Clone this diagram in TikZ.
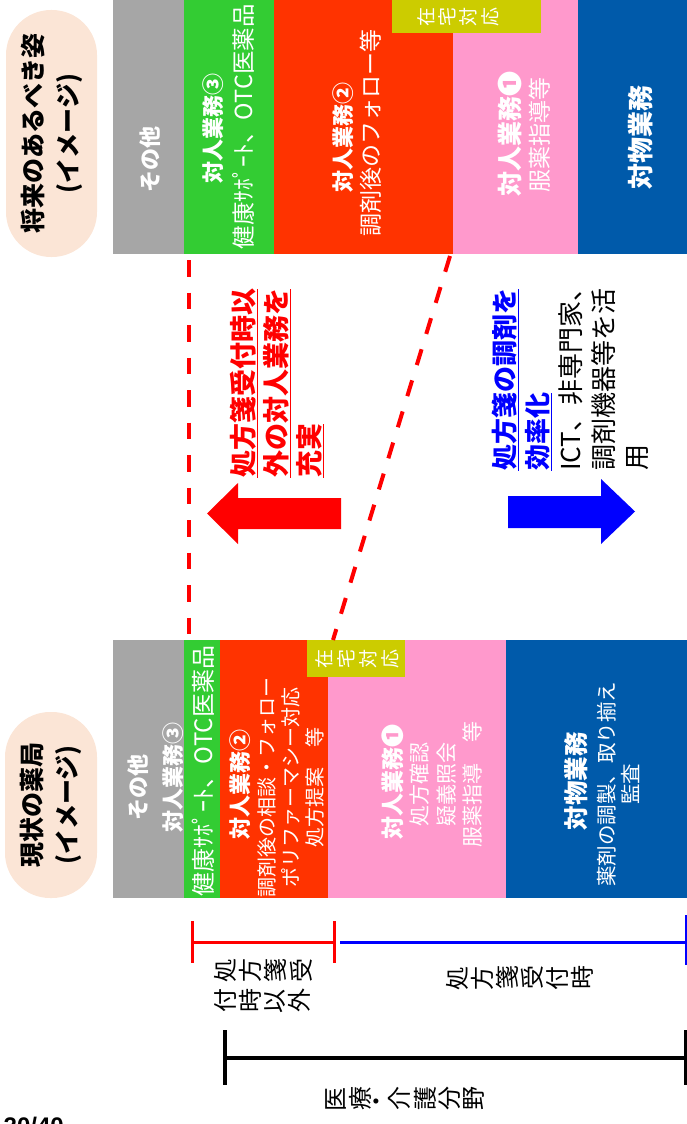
\documentclass[tikz,border=0pt]{standalone}
\usepackage{fontspec}
\setmainfont{Noto Sans CJK JP}
\newfontfamily\pgfont{Liberation Sans}
\usepackage{graphicx}

\definecolor{cgray}{HTML}{A6A6A6}
\definecolor{cgreen}{HTML}{33CC33}
\definecolor{cred}{HTML}{FF3300}
\definecolor{cyel}{HTML}{CCCC00}
\definecolor{cpink}{HTML}{FF99CC}
\definecolor{cblue}{HTML}{005AAA}
\definecolor{cpill}{HTML}{FBE5D6}
\definecolor{tred}{HTML}{FF0000}
\definecolor{tblue}{HTML}{0000FF}

\makeatletter
\newcommand\tate[2]{\@tfor\tg@c:=#2\do{\rotatebox[origin=c]{90}{\tg@c}\hspace{#1}}\unskip}
\makeatother
\newsavebox\ulbox
\newcommand\ulx[1]{\sbox\ulbox{#1}\rlap{\rule[-4.5pt]{\wd\ulbox}{1.3pt}}\usebox\ulbox}
\newcommand\fs[2]{\fontsize{#1}{#2}\selectfont}

\begin{document}
\begin{tikzpicture}[x=1pt,y=-1pt,
  bar/.style={inner sep=0pt, outer sep=0pt, anchor=north west, draw=none},
  pill/.style={fill=cpill, draw=none, rounded corners=45pt, inner sep=0pt},
  rt/.style={rotate=90, inner sep=0pt, align=center, text=white},
  pilltext/.style={rotate=90, inner sep=0pt, align=center, text=black, font=\bfseries\fs{25}{35}},
  dashline/.style={draw=tred, line width=4pt, dash pattern=on 16.5pt off 16pt},
  tg/.style={inner sep=0pt, align=left},
]
\useasboundingbox (0,0) rectangle (687,1124);

% ---------- future (top) ----------
\node[pill, minimum width=91pt, minimum height=247pt] (fpill) at (51.5,133.5) {};
\node[pilltext] (fpillt) at (fpill) {将来のあるべき姿\\(イメージ)};

\node[bar, fill=cgray,  minimum width=71pt,  minimum height=254pt] (fgray)  at (113,0) {};
\node[bar, fill=cgreen, minimum width=90pt,  minimum height=254pt] (fgreen) at (184,0) {};
\node[bar, fill=cred,   minimum width=179pt, minimum height=254pt] (fred)   at (274,0) {};
\node[bar, fill=cpink,  minimum width=125pt, minimum height=254pt] (fpink)  at (453,0) {};
\node[bar, fill=cblue,  minimum width=109pt, minimum height=254pt] (fblue)  at (578,0) {};
\node[bar, fill=cyel,   minimum width=149pt, minimum height=33pt]  (fyel)   at (392,0) {};

\node[rt, font=\bfseries\fs{22}{26}] (fgrayt) at (150,159) {その他};
\node[rt, font=\bfseries\fs{22}{26}] (fgreent) at (213,128) {対人業務③};
\node[rt, font=\fs{23.5}{28}] (fgreenb) at (243,127) {健康ｻﾎﾟｰﾄ、OTC医薬品};
\node[rt, font=\bfseries\fs{22}{26}] (fredt) at (343,137) {対人業務②};
\node[rt, font=\fs{23}{28}] (fredb) at (371,133) {調剤後のフォロー等};
\node[tg, text=white, font=\fs{19}{23}] (fyelt) at (458,17) {\tate{4pt}{在宅対応}};
\node[rt, font=\bfseries\fs{25}{30}] (fpinkt) at (510,134) {対人業務❶};
\node[rt, font=\fs{23}{28}] (fpinkb) at (540,135) {服薬指導等};
\node[rt, font=\bfseries\fs{26}{30}] (fbluet) at (641,137) {対物業務};

% ---------- current (bottom) ----------
\node[pill, minimum width=92pt, minimum height=186pt] (cpillr) at (51,805) {};
\node[pilltext] (cpillt) at (cpillr) {現状の薬局\\(イメージ)};

\node[bar, fill=cgray,  minimum width=71pt,  minimum height=258pt] (cgrayb)  at (113,640) {};
\node[bar, fill=cgreen, minimum width=36pt,  minimum height=258pt] (cgreenb) at (184,640) {};
\node[bar, fill=cred,   minimum width=108pt, minimum height=258pt] (credb)   at (220,640) {};
\node[bar, fill=cpink,  minimum width=178pt, minimum height=258pt] (cpinkb)  at (328,640) {};
\node[bar, fill=cblue,  minimum width=181pt, minimum height=258pt] (cblueb)  at (506,640) {};
\node[bar, fill=cyel,   minimum width=98pt,  minimum height=37pt]  (cyelb)   at (307,640) {};

\node[rt, font=\bfseries\fs{22}{26}] (cgrayt) at (138,787) {その他};
\node[rt, font=\bfseries\fs{22}{26}] (cgrayt2) at (173,777) {対人業務③};
\node[rt, font=\fs{24}{28}] (cgreent) at (203,771) {健康ｻﾎﾟｰﾄ、OTC医薬品};
\node[rt, font=\bfseries\fs{22}{26}] (credt) at (240,784) {対人業務②};
\node[rt, font=\fs{20}{24}] (credtx) at (291,787) {調剤後の相談・フォロー\\ポリファーマシー対応\\処方提案　等};
\node[tg, text=white, font=\fs{19}{23}] (cyelt) at (357,659) {\tate{4.5pt}{在宅対応}};
\node[rt, font=\bfseries\fs{23}{28}] (cpinkt) at (393,782) {対人業務❶};
\node[rt, font=\fs{21}{26.5}] (cpinktx) at (446,784) {処方確認\\疑義照会\\服薬指導　等};
\node[rt, font=\bfseries\fs{24.5}{28}] (cbluet) at (576,781) {対物業務};
\node[rt, font=\fs{20.5}{24}] (cbluetx) at (618,784) {薬剤の調製、取り揃え\\監査};

% ---------- dashed guide lines ----------
\coordinate (v1) at (189,260);
\coordinate (v2) at (189,640);
\coordinate (d1) at (450,256);
\coordinate (d2) at (333,640);
\draw[dashline] (v1) -- (v2);
\draw[dashline] (d1) -- (d2);

% ---------- arrows and their texts ----------
\fill[tred] (341,498) -- (238,498) -- (238,483) -- (207,513.5) -- (238,544) -- (238,529) -- (341,529) -- cycle;
\coordinate (redtip) at (207,513.5);
\fill[tblue] (508,496) -- (601,496) -- (601,479) -- (635,511.5) -- (601,544) -- (601,528) -- (508,528) -- cycle;
\coordinate (bluetip) at (635,511.5);

\node[rotate=90, anchor=north west, align=left, inner sep=0pt, text=tred, font=\bfseries\fs{27}{33}] (rtext) at (230,478)
  {\ulx{処方箋受付時以}\\\ulx{外の対人業務を}\\\ulx{充実}};
\node[rotate=90, anchor=north west, align=left, inner sep=0pt, text=black, font=\fs{26}{33}] (btext) at (492,471)
  {{\bfseries\color{tblue}\ulx{処方箋の調剤を}}\\{\bfseries\color{tblue}\ulx{効率化}}\\ICT、非専門家、\\調剤機器等を活\\用};

% ---------- brackets ----------
\coordinate (ra) at (192,942); \coordinate (rb) at (334,942);
\draw[tred, line width=3pt] (ra) -- (rb);
\draw[tred, line width=3pt] (192,921) -- (192,963);
\draw[tred, line width=3pt] (334,921) -- (334,963);
\coordinate (ba) at (340,942); \coordinate (bb) at (686,942);
\draw[tblue, line width=3pt] (ba) -- (bb);
\draw[tblue, line width=3pt] (686,915) -- (686,965);
\coordinate (ka) at (225,1058); \coordinate (kb) at (686,1058);
\draw[black, line width=3.5pt] (ka) -- (kb);
\draw[black, line width=3.5pt] (225,1030) -- (225,1085);
\draw[black, line width=3.5pt] (686,1030) -- (686,1085);

\node[tg, font=\fs{24}{30}] (lb1) at (263,986) {\tate{3pt}{処方箋受}\\\tate{3pt}{付時以外}};
\node[tg, font=\fs{24}{30}] (lb2) at (520,978) {\tate{3pt}{処方箋受付時}};
\node[tg, font=\fs{24}{30}] (lb3) at (405,1100) {\tate{3pt}{医療・介護分野}};

\begin{scope}
\clip (0,0) rectangle (687,1124);
\node[anchor=north east, inner sep=0pt, font=\pgfont\bfseries\fs{24}{28}] (pg) at (64,1117) {20/40};
\end{scope}
\end{tikzpicture}
\end{document}
